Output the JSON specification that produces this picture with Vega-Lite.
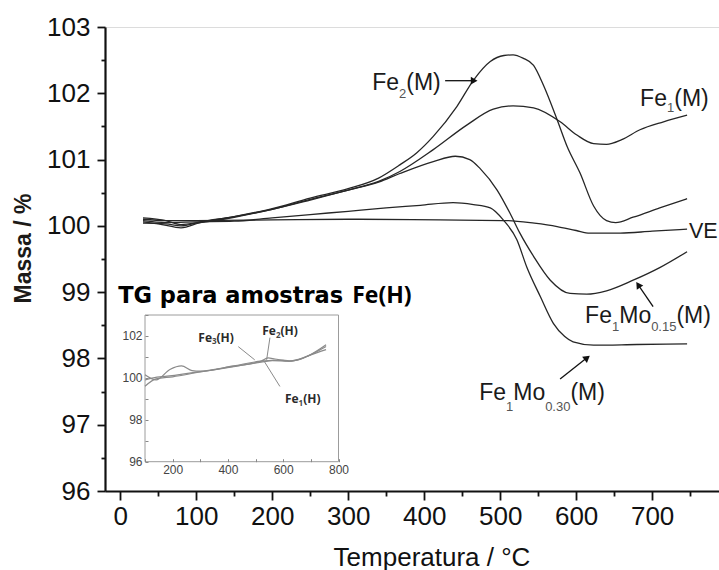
{
  "$schema": "https://vega.github.io/schema/vega-lite/v6.json",
  "width": 614,
  "height": 464,
  "autosize": "none",
  "padding": {"left": 105, "top": 27, "right": 0, "bottom": 79},
  "background": "white",
  "config": {
    "view": {"stroke": "#dcdcdc", "strokeWidth": 1},
    "font": "Liberation Sans",
    "axis": {"grid": false}
  },
  "datasets": {
    "curves": [
      {"s": "Fe2(M)", "T": 30, "v": 100.06}, {"s": "Fe2(M)", "T": 55, "v": 100.02}, {"s": "Fe2(M)", "T": 80, "v": 99.97},
      {"s": "Fe2(M)", "T": 105, "v": 100.05}, {"s": "Fe2(M)", "T": 150, "v": 100.14}, {"s": "Fe2(M)", "T": 200, "v": 100.26},
      {"s": "Fe2(M)", "T": 250, "v": 100.42}, {"s": "Fe2(M)", "T": 300, "v": 100.56}, {"s": "Fe2(M)", "T": 340, "v": 100.72},
      {"s": "Fe2(M)", "T": 368, "v": 100.92}, {"s": "Fe2(M)", "T": 390, "v": 101.1}, {"s": "Fe2(M)", "T": 412, "v": 101.35},
      {"s": "Fe2(M)", "T": 443, "v": 101.8}, {"s": "Fe2(M)", "T": 465, "v": 102.2}, {"s": "Fe2(M)", "T": 487, "v": 102.48},
      {"s": "Fe2(M)", "T": 505, "v": 102.57}, {"s": "Fe2(M)", "T": 517, "v": 102.58}, {"s": "Fe2(M)", "T": 530, "v": 102.53},
      {"s": "Fe2(M)", "T": 544, "v": 102.42}, {"s": "Fe2(M)", "T": 557, "v": 102.12}, {"s": "Fe2(M)", "T": 575, "v": 101.6},
      {"s": "Fe2(M)", "T": 588, "v": 101.2}, {"s": "Fe2(M)", "T": 605, "v": 100.8}, {"s": "Fe2(M)", "T": 623, "v": 100.3},
      {"s": "Fe2(M)", "T": 640, "v": 100.08}, {"s": "Fe2(M)", "T": 652, "v": 100.05}, {"s": "Fe2(M)", "T": 675, "v": 100.13},
      {"s": "Fe2(M)", "T": 710, "v": 100.27}, {"s": "Fe2(M)", "T": 746, "v": 100.41},

      {"s": "Fe1(M)", "T": 30, "v": 100.12}, {"s": "Fe1(M)", "T": 60, "v": 100.08}, {"s": "Fe1(M)", "T": 80, "v": 100.02},
      {"s": "Fe1(M)", "T": 105, "v": 100.05}, {"s": "Fe1(M)", "T": 150, "v": 100.13}, {"s": "Fe1(M)", "T": 200, "v": 100.25},
      {"s": "Fe1(M)", "T": 250, "v": 100.4}, {"s": "Fe1(M)", "T": 300, "v": 100.54}, {"s": "Fe1(M)", "T": 340, "v": 100.67},
      {"s": "Fe1(M)", "T": 368, "v": 100.82}, {"s": "Fe1(M)", "T": 412, "v": 101.15}, {"s": "Fe1(M)", "T": 456, "v": 101.52},
      {"s": "Fe1(M)", "T": 491, "v": 101.76}, {"s": "Fe1(M)", "T": 517, "v": 101.81}, {"s": "Fe1(M)", "T": 544, "v": 101.78},
      {"s": "Fe1(M)", "T": 579, "v": 101.57}, {"s": "Fe1(M)", "T": 601, "v": 101.37}, {"s": "Fe1(M)", "T": 623, "v": 101.24},
      {"s": "Fe1(M)", "T": 640, "v": 101.23}, {"s": "Fe1(M)", "T": 660, "v": 101.3}, {"s": "Fe1(M)", "T": 684, "v": 101.45},
      {"s": "Fe1(M)", "T": 715, "v": 101.57}, {"s": "Fe1(M)", "T": 746, "v": 101.67},

      {"s": "Fe1Mo0.15(M)", "T": 30, "v": 100.04}, {"s": "Fe1Mo0.15(M)", "T": 60, "v": 100.03}, {"s": "Fe1Mo0.15(M)", "T": 80, "v": 100.0},
      {"s": "Fe1Mo0.15(M)", "T": 105, "v": 100.06}, {"s": "Fe1Mo0.15(M)", "T": 150, "v": 100.14}, {"s": "Fe1Mo0.15(M)", "T": 200, "v": 100.25},
      {"s": "Fe1Mo0.15(M)", "T": 250, "v": 100.39}, {"s": "Fe1Mo0.15(M)", "T": 300, "v": 100.54}, {"s": "Fe1Mo0.15(M)", "T": 340, "v": 100.66},
      {"s": "Fe1Mo0.15(M)", "T": 368, "v": 100.79}, {"s": "Fe1Mo0.15(M)", "T": 412, "v": 100.97}, {"s": "Fe1Mo0.15(M)", "T": 441, "v": 101.05},
      {"s": "Fe1Mo0.15(M)", "T": 460, "v": 101.0}, {"s": "Fe1Mo0.15(M)", "T": 474, "v": 100.86}, {"s": "Fe1Mo0.15(M)", "T": 496, "v": 100.54},
      {"s": "Fe1Mo0.15(M)", "T": 513, "v": 100.19}, {"s": "Fe1Mo0.15(M)", "T": 526, "v": 99.89}, {"s": "Fe1Mo0.15(M)", "T": 544, "v": 99.54},
      {"s": "Fe1Mo0.15(M)", "T": 566, "v": 99.18}, {"s": "Fe1Mo0.15(M)", "T": 592, "v": 98.98}, {"s": "Fe1Mo0.15(M)", "T": 614, "v": 98.97},
      {"s": "Fe1Mo0.15(M)", "T": 640, "v": 99.02}, {"s": "Fe1Mo0.15(M)", "T": 675, "v": 99.18}, {"s": "Fe1Mo0.15(M)", "T": 710, "v": 99.37},
      {"s": "Fe1Mo0.15(M)", "T": 746, "v": 99.61},

      {"s": "Fe1Mo0.30(M)", "T": 30, "v": 100.08}, {"s": "Fe1Mo0.30(M)", "T": 60, "v": 100.05}, {"s": "Fe1Mo0.30(M)", "T": 100, "v": 100.06},
      {"s": "Fe1Mo0.30(M)", "T": 150, "v": 100.07}, {"s": "Fe1Mo0.30(M)", "T": 200, "v": 100.12}, {"s": "Fe1Mo0.30(M)", "T": 250, "v": 100.17},
      {"s": "Fe1Mo0.30(M)", "T": 300, "v": 100.22}, {"s": "Fe1Mo0.30(M)", "T": 350, "v": 100.27}, {"s": "Fe1Mo0.30(M)", "T": 395, "v": 100.31},
      {"s": "Fe1Mo0.30(M)", "T": 438, "v": 100.35}, {"s": "Fe1Mo0.30(M)", "T": 465, "v": 100.32}, {"s": "Fe1Mo0.30(M)", "T": 487, "v": 100.27},
      {"s": "Fe1Mo0.30(M)", "T": 504, "v": 100.09}, {"s": "Fe1Mo0.30(M)", "T": 522, "v": 99.79}, {"s": "Fe1Mo0.30(M)", "T": 535, "v": 99.38},
      {"s": "Fe1Mo0.30(M)", "T": 553, "v": 98.93}, {"s": "Fe1Mo0.30(M)", "T": 570, "v": 98.53}, {"s": "Fe1Mo0.30(M)", "T": 585, "v": 98.33},
      {"s": "Fe1Mo0.30(M)", "T": 596, "v": 98.25}, {"s": "Fe1Mo0.30(M)", "T": 623, "v": 98.2}, {"s": "Fe1Mo0.30(M)", "T": 680, "v": 98.21},
      {"s": "Fe1Mo0.30(M)", "T": 746, "v": 98.22},

      {"s": "VE", "T": 30, "v": 100.1}, {"s": "VE", "T": 60, "v": 100.08}, {"s": "VE", "T": 100, "v": 100.08},
      {"s": "VE", "T": 200, "v": 100.09}, {"s": "VE", "T": 300, "v": 100.1}, {"s": "VE", "T": 421, "v": 100.09},
      {"s": "VE", "T": 509, "v": 100.08}, {"s": "VE", "T": 545, "v": 100.04}, {"s": "VE", "T": 575, "v": 99.99},
      {"s": "VE", "T": 600, "v": 99.93}, {"s": "VE", "T": 618, "v": 99.89}, {"s": "VE", "T": 658, "v": 99.89},
      {"s": "VE", "T": 700, "v": 99.92}, {"s": "VE", "T": 746, "v": 99.95}
    ],
    "arrows": [
      {"a": "fe2", "T": 427.6, "v": 102.19}, {"a": "fe2", "T": 462, "v": 102.19},
      {"a": "mo15", "T": 701.3, "v": 98.78}, {"a": "mo15", "T": 681, "v": 99.12},
      {"a": "mo30", "T": 578.9, "v": 97.69}, {"a": "mo30", "T": 613, "v": 98.0}
    ],
    "heads": [
      {"a": "fe2", "T": 465.8, "v": 102.19},
      {"a": "mo15", "T": 681.6, "v": 99.11},
      {"a": "mo30", "T": 614.5, "v": 98.01}
    ],
    "labels": [
      {"t": "Fe", "T": 331.6, "v": 102.057, "k": "main"}, {"t": "2", "T": 367.0, "v": 101.93, "k": "sub"}, {"t": "(M)", "T": 376.4, "v": 102.057, "k": "main"},
      {"t": "Fe", "T": 684.2, "v": 101.81, "k": "main"}, {"t": "1", "T": 719.6, "v": 101.72, "k": "sub"}, {"t": "(M)", "T": 729.1, "v": 101.81, "k": "main"},
      {"t": "VE", "T": 748.5, "v": 99.82, "k": "edge"},
      {"t": "Fe", "T": 611.8, "v": 98.53, "k": "main"}, {"t": "1", "T": 647.2, "v": 98.415, "k": "sub"}, {"t": "Mo", "T": 656.7, "v": 98.53, "k": "main"},
      {"t": "0.15", "T": 698.7, "v": 98.415, "k": "sub"}, {"t": "(M)", "T": 732.0, "v": 98.53, "k": "main"},
      {"t": "Fe", "T": 472.4, "v": 97.374, "k": "main"}, {"t": "1", "T": 507.8, "v": 97.21, "k": "sub"}, {"t": "Mo", "T": 517.2, "v": 97.374, "k": "main"},
      {"t": "0.30", "T": 559.2, "v": 97.21, "k": "sub"}, {"t": "(M)", "T": 592.5, "v": 97.374, "k": "main"},
      {"t": "TG para amostras", "T": -2.6, "v": 98.84, "k": "tg"},
      {"t": "Fe(H)", "T": 305.3, "v": 98.84, "k": "feh"}
    ],
    "inset": [
      {"s": "Fe1(H)", "T": 100, "v": 99.6}, {"s": "Fe1(H)", "T": 140, "v": 99.95}, {"s": "Fe1(H)", "T": 200, "v": 100.05},
      {"s": "Fe1(H)", "T": 300, "v": 100.28}, {"s": "Fe1(H)", "T": 420, "v": 100.53}, {"s": "Fe1(H)", "T": 520, "v": 100.75},
      {"s": "Fe1(H)", "T": 560, "v": 100.82}, {"s": "Fe1(H)", "T": 620, "v": 100.8}, {"s": "Fe1(H)", "T": 660, "v": 100.88},
      {"s": "Fe1(H)", "T": 700, "v": 101.1}, {"s": "Fe1(H)", "T": 755, "v": 101.35},
      {"s": "Fe2(H)", "T": 100, "v": 99.9}, {"s": "Fe2(H)", "T": 130, "v": 100.0}, {"s": "Fe2(H)", "T": 180, "v": 100.08},
      {"s": "Fe2(H)", "T": 300, "v": 100.3}, {"s": "Fe2(H)", "T": 420, "v": 100.55}, {"s": "Fe2(H)", "T": 520, "v": 100.8},
      {"s": "Fe2(H)", "T": 545, "v": 100.95}, {"s": "Fe2(H)", "T": 570, "v": 100.9}, {"s": "Fe2(H)", "T": 620, "v": 100.8},
      {"s": "Fe2(H)", "T": 680, "v": 101.0}, {"s": "Fe2(H)", "T": 755, "v": 101.5},
      {"s": "Fe3(H)", "T": 100, "v": 100.15}, {"s": "Fe3(H)", "T": 140, "v": 99.9}, {"s": "Fe3(H)", "T": 190, "v": 100.4},
      {"s": "Fe3(H)", "T": 232, "v": 100.57}, {"s": "Fe3(H)", "T": 270, "v": 100.35}, {"s": "Fe3(H)", "T": 300, "v": 100.32},
      {"s": "Fe3(H)", "T": 420, "v": 100.57}, {"s": "Fe3(H)", "T": 520, "v": 100.8}, {"s": "Fe3(H)", "T": 600, "v": 100.85},
      {"s": "Fe3(H)", "T": 630, "v": 100.8}, {"s": "Fe3(H)", "T": 690, "v": 101.05}, {"s": "Fe3(H)", "T": 755, "v": 101.58}
    ],
    "insetLeaders": [
      {"a": "f3", "T": 437.5, "v": 101.49}, {"a": "f3", "T": 497, "v": 100.86},
      {"a": "f2", "T": 552, "v": 101.92}, {"a": "f2", "T": 540, "v": 100.86},
      {"a": "f1", "T": 528, "v": 100.86}, {"a": "f1", "T": 588, "v": 99.59}
    ],
    "insetLabels": [
      {"t": "Fe", "T": 292.8, "v": 101.73, "k": "main"}, {"t": "3", "T": 342.0, "v": 101.6, "k": "sub"}, {"t": "(H)", "T": 358.7, "v": 101.73, "k": "main"},
      {"t": "Fe", "T": 524.3, "v": 102.05, "k": "main"}, {"t": "2", "T": 573.5, "v": 101.9, "k": "sub"}, {"t": "(H)", "T": 590.2, "v": 102.05, "k": "main"},
      {"t": "Fe", "T": 606.5, "v": 98.8, "k": "main"}, {"t": "1", "T": 655.7, "v": 98.64, "k": "sub"}, {"t": "(H)", "T": 672.3, "v": 98.8, "k": "main"}
    ],
    "insetFrame": [
      {"T": 100, "v": 96, "T2": 800, "v2": 103}
    ]
  },
  "layer": [
    {
      "encoding": {
        "x": {
          "field": "T", "type": "quantitative",
          "scale": {"domain": [-20, 788], "nice": false, "zero": false},
          "axis": {
            "title": "Temperatura / °C",
            "values": [0, 50, 100, 150, 200, 250, 300, 350, 400, 450, 500, 550, 600, 650, 700, 750],
            "labelExpr": "datum.value % 100 === 0 ? datum.label : ''",
            "labelFontSize": 26, "labelColor": "#111", "labelPadding": 3,
            "labelOverlap": false, "labelFlush": false,
            "tickSize": {"condition": {"test": "datum.value % 100 !== 0", "value": 5}, "value": 9},
            "tickWidth": 1.8, "tickColor": "#111",
            "domainColor": "#111", "domainWidth": 2.2,
            "titleFontSize": 26, "titleFontWeight": "normal", "titleColor": "#111",
            "titleX": 326.5, "titleY": 74, "titleBaseline": "alphabetic", "titleAlign": "center",
            "zindex": 1
          }
        },
        "y": {
          "field": "v", "type": "quantitative",
          "scale": {"domain": [96, 103], "nice": false, "zero": false},
          "axis": {
            "title": "Massa / %",
            "values": [96, 96.5, 97, 97.5, 98, 98.5, 99, 99.5, 100, 100.5, 101, 101.5, 102, 102.5, 103],
            "labelExpr": "datum.value % 1 === 0 ? format(datum.value, 'd') : ''",
            "labelFontSize": 26, "labelColor": "#111", "labelPadding": 7,
            "labelOverlap": false, "labelFlush": false,
            "tickSize": {"condition": {"test": "datum.value % 1 !== 0", "value": 4}, "value": 8},
            "tickWidth": 1.8, "tickColor": "#111",
            "domainColor": "#111", "domainWidth": 2.2,
            "titleFontSize": 23, "titleFontWeight": "bold", "titleColor": "#1c1a18",
            "titleAngle": 270, "titleX": -75, "titleY": 221, "titleBaseline": "alphabetic", "titleAlign": "center",
            "zindex": 1
          }
        }
      },
      "layer": [
        {
          "data": {"name": "curves"},
          "mark": {"type": "line", "color": "#262626", "strokeWidth": 1.3, "interpolate": "monotone"},
          "encoding": {"detail": {"field": "s"}}
        },
        {
          "data": {"name": "arrows"},
          "mark": {"type": "line", "color": "#111", "strokeWidth": 1.3},
          "encoding": {"detail": {"field": "a"}}
        },
        {
          "data": {"name": "heads"},
          "transform": [{"filter": "datum.a === 'fe2'"}],
          "mark": {"type": "point", "shape": "triangle-right", "filled": true, "size": 60, "color": "#111", "opacity": 1}
        },
        {
          "data": {"name": "heads"},
          "transform": [{"filter": "datum.a === 'mo15'"}],
          "mark": {"type": "point", "shape": "triangle-up", "angle": 326, "filled": true, "size": 60, "color": "#111", "opacity": 1}
        },
        {
          "data": {"name": "heads"},
          "transform": [{"filter": "datum.a === 'mo30'"}],
          "mark": {"type": "point", "shape": "triangle-up", "angle": 52, "filled": true, "size": 60, "color": "#111", "opacity": 1}
        },
        {
          "data": {"name": "labels"},
          "transform": [{"filter": "datum.k === 'main'"}],
          "mark": {"type": "text", "align": "left", "baseline": "alphabetic", "fontSize": 23, "color": "#1a1a1a"},
          "encoding": {"text": {"field": "t"}}
        },
        {
          "data": {"name": "labels"},
          "transform": [{"filter": "datum.k === 'edge'"}],
          "mark": {"type": "text", "align": "left", "baseline": "alphabetic", "fontSize": 21.5, "color": "#1a1a1a"},
          "encoding": {"text": {"field": "t"}}
        },
        {
          "data": {"name": "labels"},
          "transform": [{"filter": "datum.k === 'sub'"}],
          "mark": {"type": "text", "align": "left", "baseline": "alphabetic", "fontSize": 13, "color": "#555"},
          "encoding": {"text": {"field": "t"}}
        },
        {
          "data": {"name": "labels"},
          "transform": [{"filter": "datum.k === 'tg'"}],
          "mark": {"type": "text", "align": "left", "baseline": "alphabetic", "font": "DejaVu Sans", "fontWeight": "bold", "fontSize": 22.5, "color": "#000"},
          "encoding": {"text": {"field": "t"}}
        },
        {
          "data": {"name": "labels"},
          "transform": [{"filter": "datum.k === 'feh'"}],
          "mark": {"type": "text", "align": "left", "baseline": "alphabetic", "font": "Open Sans", "fontWeight": "bold", "fontSize": 23, "color": "#000"},
          "encoding": {"text": {"field": "t"}}
        }
      ]
    },
    {
      "encoding": {
        "x": {
          "field": "T", "type": "quantitative",
          "scale": {"domain": [100, 800], "range": [40, 233.5], "nice": false, "zero": false},
          "axis": {
            "orient": "bottom", "offset": -29.3, "title": null,
            "values": [100, 200, 300, 400, 500, 600, 700, 800],
            "labelExpr": "datum.value % 200 === 0 ? datum.label : ''",
            "labelFontSize": 12, "labelColor": "#444", "labelPadding": 6,
            "labelOverlap": false, "labelFlush": false,
            "tickSize": -3, "tickColor": "#888", "tickWidth": 1,
            "domain": false, "zindex": 2
          }
        },
        "y": {
          "field": "v", "type": "quantitative",
          "scale": {"domain": [96, 103], "range": [434.7, 288], "nice": false, "zero": false},
          "axis": {
            "orient": "left", "offset": -40, "title": null,
            "values": [96, 97, 98, 99, 100, 101, 102, 103],
            "labelExpr": "datum.value % 2 === 0 ? datum.label : ''",
            "labelFontSize": 12, "labelColor": "#444", "labelPadding": 6,
            "labelOverlap": false, "labelFlush": false,
            "tickSize": -3, "tickColor": "#888", "tickWidth": 1,
            "domain": false, "zindex": 2
          }
        }
      },
      "layer": [
        {
          "data": {"name": "insetFrame"},
          "mark": {"type": "rect", "fill": "white", "stroke": "#9c9c9c", "strokeWidth": 1},
          "encoding": {"x2": {"field": "T2"}, "y2": {"field": "v2"}}
        },
        {
          "data": {"name": "inset"},
          "mark": {"type": "line", "color": "#8a8a8a", "strokeWidth": 1.2, "interpolate": "monotone"},
          "encoding": {"detail": {"field": "s"}}
        },
        {
          "data": {"name": "insetLeaders"},
          "mark": {"type": "line", "color": "#8a8a8a", "strokeWidth": 1},
          "encoding": {"detail": {"field": "a"}}
        },
        {
          "data": {"name": "insetLabels"},
          "transform": [{"filter": "datum.k === 'main'"}],
          "mark": {"type": "text", "align": "left", "baseline": "alphabetic", "font": "Open Sans", "fontWeight": "bold", "fontSize": 12, "color": "#2a2a2a"},
          "encoding": {"text": {"field": "t"}}
        },
        {
          "data": {"name": "insetLabels"},
          "transform": [{"filter": "datum.k === 'sub'"}],
          "mark": {"type": "text", "align": "left", "baseline": "alphabetic", "font": "Open Sans", "fontWeight": "bold", "fontSize": 8, "color": "#444"},
          "encoding": {"text": {"field": "t"}}
        }
      ]
    }
  ],
  "resolve": {"scale": {"x": "independent", "y": "independent"}}
}
